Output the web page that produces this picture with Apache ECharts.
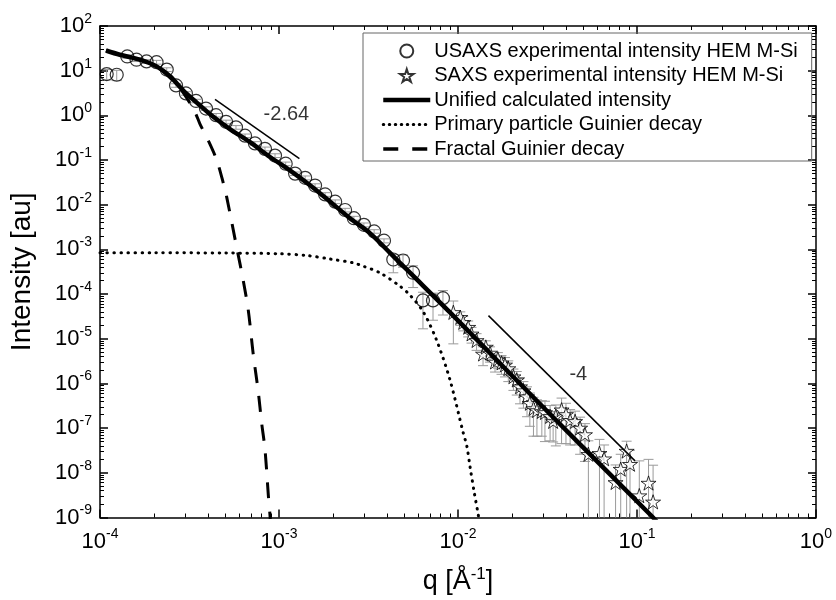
<!DOCTYPE html>
<html>
<head>
<meta charset="utf-8">
<script src="https://cdn.jsdelivr.net/npm/echarts@6/dist/echarts.min.js"></script>
<style>
  html, body { margin: 0; padding: 0; background: #ffffff; }
  #chart { width: 836px; height: 600px; }
</style>
</head>
<body>
<div id="chart"></div>
<script>
// USAXS measurement: q [1/Å], intensity, error bar bounds
const usaxsQ = [1.09e-4, 1.24e-4, 1.42e-4, 1.60e-4, 1.82e-4, 2.07e-4, 2.36e-4, 2.66e-4, 3.02e-4, 3.44e-4,
  3.91e-4, 4.45e-4, 5.06e-4, 5.75e-4, 6.46e-4, 7.34e-4, 8.35e-4, 9.50e-4, 1.09e-3, 1.23e-3,
  1.40e-3, 1.59e-3, 1.81e-3, 2.06e-3, 2.34e-3, 2.62e-3, 2.98e-3, 3.40e-3, 3.86e-3, 4.35e-3,
  4.93e-3, 5.61e-3, 6.37e-3, 7.25e-3, 8.24e-3];
const usaxsI = [8.4, 8.1, 20.8, 17.6, 16.1, 15.5, 10.6, 4.68, 3.10, 2.10,
  1.42, 1.01, 0.718, 0.54, 0.351, 0.236, 0.178, 0.126, 0.0828, 0.0497,
  0.040, 0.0269, 0.0170, 0.0117, 7.62e-3, 4.99e-3, 3.55e-3, 2.53e-3, 1.57e-3, 5.94e-4,
  5.65e-4, 3.01e-4, 7.21e-5, 7.21e-5, 8.11e-5];
const usaxsLo = [6.2, 6.0, 19.0, 16.0, 14.6, 14.0, 9.6, 4.25, 2.82, 1.91,
  1.29, 0.92, 0.65, 0.49, 0.32, 0.214, 0.161, 0.114, 0.075, 0.045,
  0.036, 0.0244, 0.0154, 0.0106, 6.9e-3, 4.5e-3, 3.2e-3, 2.3e-3, 1.4e-3, 3.0e-4,
  4.0e-4, 1.4e-4, 1.67e-5, 2.6e-5, 3.4e-5];
const usaxsHi = [10.6, 10.2, 22.6, 19.2, 17.6, 17.0, 11.6, 5.1, 3.38, 2.29,
  1.55, 1.10, 0.78, 0.59, 0.382, 0.258, 0.195, 0.138, 0.090, 0.054,
  0.044, 0.0294, 0.0186, 0.0128, 8.3e-3, 5.5e-3, 3.9e-3, 2.76e-3, 1.72e-3, 7.7e-4,
  7.5e-4, 4.3e-4, 1.1e-4, 1.05e-4, 1.2e-4];

// SAXS measurement
const saxsQ = [9.42e-3, 1.03e-2, 1.07e-2, 1.14e-2, 1.19e-2, 1.27e-2, 1.38e-2, 1.43e-2, 1.51e-2, 1.61e-2,
  1.67e-2, 1.75e-2, 1.83e-2, 1.91e-2, 2.04e-2, 2.13e-2, 2.22e-2, 2.32e-2, 2.43e-2, 2.52e-2,
  2.64e-2, 2.76e-2, 2.94e-2, 3.06e-2, 3.27e-2, 3.40e-2, 3.52e-2, 3.79e-2, 4.01e-2, 4.23e-2,
  4.51e-2, 4.81e-2, 5.12e-2, 5.35e-2, 6.17e-2, 6.55e-2, 7.59e-2, 8.11e-2, 8.75e-2, 9.14e-2,
  0.103, 0.116, 0.123];
const saxsI = [3.91e-5, 3.03e-5, 2.34e-5, 1.82e-5, 1.29e-5, 9.2e-6, 4.58e-6, 6.55e-6, 4.82e-6, 3.04e-6,
  3.55e-6, 2.89e-6, 2.61e-6, 2.16e-6, 1.42e-6, 1.20e-6, 8.49e-7, 6.92e-7, 5.09e-7, 3.62e-7,
  2.76e-7, 2.49e-7, 2.37e-7, 2.25e-7, 1.84e-7, 1.42e-7, 1.84e-7, 2.58e-7, 2.03e-7, 1.50e-7,
  1.42e-7, 1.01e-7, 7.21e-8, 2.60e-8, 2.74e-8, 2.07e-8, 6.10e-9, 1.21e-8, 3.07e-8, 1.56e-8,
  3.09e-9, 5.91e-9, 2.24e-9];
const saxsLo = [7.7e-6, 2.0e-5, 1.5e-5, 1.1e-5, 8e-6, 5.5e-6, 2.5e-6, 4e-6, 3e-6, 1.8e-6,
  2.2e-6, 1.6e-6, 1.4e-6, 1.1e-6, 7e-7, 5.5e-7, 3.5e-7, 2.8e-7, 1.8e-7, 1.1e-7,
  6.6e-8, 6.6e-8, 6.6e-8, 5e-8, 5.2e-8, 4.9e-8, 4e-8, 4.5e-8, 4.5e-8, 4.2e-8,
  4.2e-8, 2.6e-8, 1.8e-8, 1e-10, 1e-10, 1e-10, 1e-10, 1e-10, 1e-10, 1e-10,
  1e-10, 1e-10, 1e-10];
const saxsHi = [7.0e-5, 4.0e-5, 3.2e-5, 2.5e-5, 1.8e-5, 1.3e-5, 6.6e-6, 9e-6, 6.6e-6, 4.3e-6,
  4.9e-6, 4.2e-6, 3.8e-6, 3.2e-6, 2.1e-6, 1.85e-6, 1.35e-6, 1.1e-6, 8.4e-7, 6.1e-7,
  4.9e-7, 4.3e-7, 4.1e-7, 4e-7, 3.2e-7, 2.35e-7, 3.3e-7, 4.7e-7, 3.6e-7, 2.6e-7,
  2.4e-7, 1.76e-7, 1.26e-7, 5.2e-8, 5.6e-8, 4.2e-8, 1.5e-8, 2.6e-8, 5.1e-8, 3.2e-8,
  1.85e-8, 2.0e-8, 1.48e-8];

// Unified fit curve
const unifiedQ = [1.08e-4, 1.29e-4, 1.67e-4, 2.07e-4, 2.46e-4, 2.92e-4, 3.47e-4, 4.12e-4, 5.32e-4, 6.89e-4,
  8.91e-4, 1.15e-3, 1.49e-3, 1.93e-3, 2.49e-3, 3.22e-3, 4.17e-3, 5.39e-3, 9.02e-3, 1.95e-2,
  4.81e-2, 0.123, 0.13];
const unifiedI = [28.3, 22.7, 17.6, 12.5, 7.5, 3.6, 1.93, 1.06, 0.494, 0.251,
  0.117, 0.0588, 0.0273, 0.0117, 4.99e-3, 2.32e-3, 8.35e-4, 3.01e-4, 3.89e-5, 1.67e-6,
  4.33e-8, 1.0e-9, 7.8e-10];

// Primary particle Guinier term
const primaryQ = [1.0e-4, 2.0e-4, 5.0e-4, 1.0e-3, 1.43e-3, 1.93e-3, 2.60e-3, 2.96e-3, 3.66e-3, 4.74e-3,
  5.39e-3, 6.40e-3, 7.60e-3, 9.02e-3, 1.07e-2, 1.12e-2, 1.17e-2, 1.23e-2, 1.30e-2, 1.34e-2];
const primaryI = [8.4e-4, 8.4e-4, 8.3e-4, 8.0e-4, 7.3e-4, 6.1e-4, 5.0e-4, 4.2e-4, 3.0e-4, 1.5e-4,
  9.5e-5, 4.0e-5, 9.2e-6, 1.2e-6, 7.8e-8, 4.0e-8, 1.3e-8, 3.8e-9, 1.1e-9, 5e-10];

// Fractal Guinier term
const fractalQ = [1.08e-4, 1.29e-4, 1.67e-4, 2.07e-4, 2.46e-4, 2.92e-4, 3.40e-4, 3.62e-4, 4.03e-4, 4.49e-4,
  4.89e-4, 5.10e-4, 5.81e-4, 6.32e-4, 6.74e-4, 7.18e-4, 7.66e-4, 8.00e-4, 8.35e-4, 8.72e-4,
  8.91e-4, 9.0e-4];
const fractalI = [28.3, 22.7, 17.6, 12.5, 7.0, 3.2, 1.16, 0.638, 0.272, 0.10,
  0.030, 0.0150, 1.08e-3, 1.97e-4, 4.27e-5, 4.5e-6, 6.5e-7, 1.30e-7, 3.36e-8, 3.09e-9,
  1.1e-9, 5e-10];

// Power-law guide lines and their slope labels
const guideLowQ = [4.39e-4, 1.30e-3];
const guideLowI = [2.29, 0.107];
const guideHighQ = [1.48e-2, 9.75e-2];
const guideHighI = [3.30e-5, 1.85e-8];
const slopeLabels = [
  { text: '-2.64', q: 1.10e-3, I: 1.06 },
  { text: '-4', q: 4.70e-2, I: 1.55e-6 }
];

const legendNames = [
  'USAXS experimental intensity HEM M-Si',
  'SAXS experimental intensity HEM M-Si',
  'Unified calculated intensity',
  'Primary particle Guinier decay',
  'Fractal Guinier decay'
];

// Decade and sub-decade tick positions
const xDecades = [1e-4, 1e-3, 1e-2, 1e-1, 1];
const yDecades = [1e-9, 1e-8, 1e-7, 1e-6, 1e-5, 1e-4, 1e-3, 1e-2, 1e-1, 1, 10, 100];
function subDecades(decades) {
  const out = [];
  for (let i = 0; i < decades.length - 1; i++) {
    for (let k = 2; k <= 9; k++) out.push(k * decades[i]);
  }
  return out;
}
const xMinor = subDecades(xDecades);
const yMinor = subDecades(yDecades);

const FONT = 'Liberation Sans, Arial, sans-serif';
const zip = (a, b) => a.map((v, i) => [v, b[i]]);
const zip3 = (a, b, c) => a.map((v, i) => [v, b[i], c[i]]);

const powerRich = {
  b: { fontSize: 22, fontFamily: FONT, color: '#000', lineHeight: 28 },
  s: { fontSize: 14, fontFamily: FONT, color: '#000', lineHeight: 14, verticalAlign: 'top' }
};
function powerLabel(v) {
  const e = Math.round(Math.log10(v));
  return '{b|10}{s|' + e + '}';
}

function errorBar(params, api) {
  const q = api.value(0), lo = api.value(1), hi = api.value(2);
  const cs = params.coordSys;
  const top = api.coord([q, hi]);
  const bot = api.coord([q, lo]);
  const yMin = cs.y, yMax = cs.y + cs.height;
  const x = top[0];
  const y1 = Math.max(top[1], yMin), y2 = Math.min(bot[1], yMax);
  const st = { stroke: '#9a9a9a', lineWidth: 1 };
  const half = 5;
  const children = [{ type: 'line', shape: { x1: x, y1: y1, x2: x, y2: y2 }, style: st }];
  if (top[1] >= yMin) children.push({ type: 'line', shape: { x1: x - half, y1: top[1], x2: x + half, y2: top[1] }, style: st });
  if (bot[1] <= yMax) children.push({ type: 'line', shape: { x1: x - half, y1: bot[1], x2: x + half, y2: bot[1] }, style: st });
  return { type: 'group', children: children };
}

const axisLineStyle = { color: '#000', width: 1.5 };
function frameAxis(extra) {
  return Object.assign({
    type: 'log', logBase: 10,
    axisLine: { show: true, lineStyle: axisLineStyle },
    axisTick: { show: true, inside: true, length: 8, lineStyle: { color: '#000', width: 1.5 } },
    axisLabel: { show: false },
    splitLine: { show: false },
    minorSplitLine: { show: false }
  }, extra);
}
function minorAxis(pos, values, range) {
  return {
    type: 'log', logBase: 10, position: pos, min: range[0], max: range[1],
    axisLine: { show: false },
    axisTick: { show: true, inside: true, length: 4, customValues: values, lineStyle: { color: '#000', width: 1 } },
    axisLabel: { show: false },
    splitLine: { show: false }
  };
}

const STAR = 'path://M50,0 L61.2,34.5 L97.6,34.5 L68.2,55.9 L79.4,90.5 L50,69.1 L20.6,90.5 L31.8,55.9 L2.4,34.5 L38.8,34.5 Z';
const HIDDEN_MARK = { color: 'rgba(0,0,0,0)', borderColor: 'rgba(0,0,0,0)', borderWidth: 0, opacity: 0 };

const chart = echarts.init(document.getElementById('chart'), null, { renderer: 'canvas' });
chart.setOption({
  animation: false,
  backgroundColor: '#ffffff',
  grid: { left: 100, right: 20, top: 26, bottom: 78, containLabel: false },
  legend: {
    orient: 'vertical', left: 363, top: 33,
    data: [
      { name: legendNames[0] },
      { name: legendNames[1] },
      { name: legendNames[2], itemStyle: HIDDEN_MARK, lineStyle: { width: 4.5 } },
      { name: legendNames[3], itemStyle: HIDDEN_MARK, lineStyle: { width: 3, type: [0.5, 5.5], cap: 'round' } },
      { name: legendNames[4], itemStyle: HIDDEN_MARK, lineStyle: { width: 3.5, type: [15, 14] } }
    ],
    selectedMode: false,
    itemWidth: 47, itemHeight: 13, itemGap: 4.5,
    padding: [8, 14, 2, 18],
    borderColor: '#666', borderWidth: 1,
    textStyle: { fontSize: 20, fontFamily: FONT, color: '#000', padding: [0, 0, 0, -1] }
  },
  xAxis: [
    frameAxis({
      position: 'bottom', min: 1e-4, max: 1,
      axisTick: { show: true, inside: true, length: 8, customValues: xDecades, lineStyle: { color: '#000', width: 1.5 } },
      axisLabel: { show: true, customValues: xDecades, margin: 10, formatter: powerLabel, rich: powerRich },
      name: '{b|q [Å}{s|-1}{b|]}', nameLocation: 'middle', nameGap: 48,
      nameTextStyle: {
        rich: {
          b: { fontSize: 27, fontFamily: FONT, color: '#000', lineHeight: 32 },
          s: { fontSize: 17, fontFamily: FONT, color: '#000', lineHeight: 17, verticalAlign: 'top' }
        }
      }
    }),
    frameAxis({
      position: 'top', min: 1e-4, max: 1,
      axisTick: { show: true, inside: true, length: 8, customValues: xDecades, lineStyle: { color: '#000', width: 1.5 } }
    }),
    minorAxis('bottom', xMinor, [1e-4, 1]),
    minorAxis('top', xMinor, [1e-4, 1])
  ],
  yAxis: [
    frameAxis({
      position: 'left', min: 1e-9, max: 100,
      axisTick: { show: true, inside: true, length: 8, customValues: yDecades, lineStyle: { color: '#000', width: 1.5 } },
      axisLabel: { show: true, customValues: yDecades, margin: 8, formatter: powerLabel, rich: powerRich },
      name: 'Intensity [au]', nameLocation: 'middle', nameGap: 64,
      nameTextStyle: { fontSize: 28, fontFamily: FONT, color: '#000' }
    }),
    frameAxis({
      position: 'right', min: 1e-9, max: 100,
      axisTick: { show: true, inside: true, length: 8, customValues: yDecades, lineStyle: { color: '#000', width: 1.5 } }
    }),
    minorAxis('left', yMinor, [1e-9, 100]),
    minorAxis('right', yMinor, [1e-9, 100])
  ],
  series: [
    {
      type: 'custom', name: 'usaxsErr', renderItem: errorBar,
      data: zip3(usaxsQ, usaxsLo, usaxsHi), encode: { x: 0, y: [1, 2] }, z: 1, silent: true
    },
    {
      type: 'custom', name: 'saxsErr', renderItem: errorBar,
      data: zip3(saxsQ, saxsLo, saxsHi), encode: { x: 0, y: [1, 2] }, z: 1, silent: true
    },
    {
      type: 'scatter', name: legendNames[0], data: zip(usaxsQ, usaxsI),
      symbol: 'circle', symbolSize: 13, z: 2,
      itemStyle: { color: 'rgba(255,255,255,0)', borderColor: '#000', borderWidth: 1.2 }
    },
    {
      type: 'scatter', name: legendNames[1], data: zip(saxsQ, saxsI),
      symbol: STAR, symbolSize: 15, symbolKeepAspect: true, z: 2,
      itemStyle: { color: '#ffffff', borderColor: '#000', borderWidth: 1 }
    },
    {
      type: 'line', name: legendNames[2], data: zip(unifiedQ, unifiedI),
      symbol: 'none', smooth: 0.3, z: 3,
      lineStyle: { color: '#000', width: 4.5 }, itemStyle: { color: '#000' }
    },
    {
      type: 'line', name: legendNames[3], data: zip(primaryQ, primaryI),
      symbol: 'none', smooth: 0.3, z: 3,
      lineStyle: { color: '#000', width: 3, type: [0.5, 6.5], cap: 'round' }, itemStyle: { color: '#000' }
    },
    {
      type: 'line', name: legendNames[4], data: zip(fractalQ, fractalI),
      symbol: 'none', smooth: 0.3, z: 3,
      lineStyle: { color: '#000', width: 3, type: [16, 13] }, itemStyle: { color: '#000' }
    },
    {
      type: 'line', name: 'guideLow', data: zip(guideLowQ, guideLowI), symbol: 'none', z: 3,
      lineStyle: { color: '#000', width: 1.5 }
    },
    {
      type: 'line', name: 'guideHigh', data: zip(guideHighQ, guideHighI), symbol: 'none', z: 3,
      lineStyle: { color: '#000', width: 1.5 }
    },
    {
      type: 'scatter', name: 'slopeText', z: 4, symbol: 'circle', symbolSize: 1,
      itemStyle: { color: 'rgba(0,0,0,0)' },
      data: slopeLabels.map(d => ({ value: [d.q, d.I], name: d.text })),
      label: { show: true, position: 'inside', formatter: '{b}', fontSize: 20, fontFamily: FONT, color: '#000' }
    }
  ]
});
</script>
</body>
</html>
